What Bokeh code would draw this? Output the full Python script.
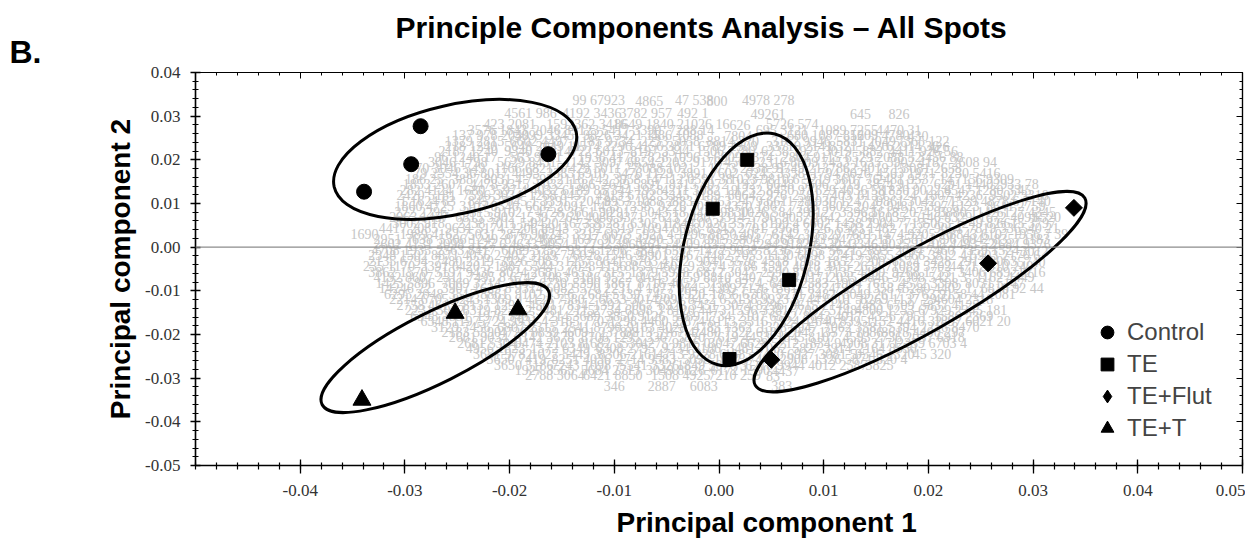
from bokeh.plotting import figure
from bokeh.models import (LinearAxis, FixedTicker, NumeralTickFormatter, Span, Title,
                          Legend, LegendItem, ColumnDataSource, Range1d)
from bokeh.core.properties import value
from bokeh.embed import file_html
from bokeh.resources import INLINE
import math

# ---------------- data ----------------
control_x = [-0.0339, -0.0294, -0.0285, -0.0163]
control_y = [0.0127, 0.0190, 0.0277, 0.0213]
te_x = [0.0027, -0.0006, 0.0067, 0.0010]
te_y = [0.0200, 0.0088, -0.0075, -0.0256]
flut_x = [0.0339, 0.0257, 0.0050]
flut_y = [0.0090, -0.0037, -0.0258]
tet_x = [-0.0341, -0.0252, -0.0192]
tet_y = [-0.0350, -0.0151, -0.0143]

# group ellipses (Control, TE, TE+Flut, TE+T)
ell_x = [-0.0252, 0.0026, 0.0192, -0.0271]
ell_y = [0.0201, -0.0005, -0.0102, -0.0230]
ell_w = [0.0237, 0.0227, 0.0362, 0.0242]
ell_h = [0.0250, 0.0285, 0.0187, 0.0160]
ell_angle_deg = [12.8, 76.1, 29.6, 26.7]

x_ticks = [-0.04, -0.03, -0.02, -0.01, 0.0, 0.01, 0.02, 0.03, 0.04, 0.05]
y_ticks = [-0.05, -0.04, -0.03, -0.02, -0.01, 0.0, 0.01, 0.02, 0.03, 0.04]

# background spot-number labels (loadings), row by row
spot_row_y = [0.0335, 0.0305, 0.0280, 0.0255, 0.0230, 0.0205, 0.0180, 0.0155, 0.0130,
              0.0105, 0.0080, 0.0055, 0.0030, 0.0005, -0.0020, -0.0045, -0.0070,
              -0.0095, -0.0120, -0.0145, -0.0170, -0.0195, -0.0220, -0.0245,
              -0.0270, -0.0295, -0.0318]
spot_row_x = [
    [-0.0140, -0.0080, -0.0042, -0.0012, 0.0022],
    [-0.0205, -0.0150, -0.0095, -0.0040, 0.0030, 0.0125, 0.0162],
    [-0.0225, -0.0165, -0.0100, -0.0040, 0.0010, 0.0045],
    [-0.0255, -0.0195, -0.0130, -0.0065, 0.0005, 0.0065, 0.0125, 0.0180],
    [-0.0262, -0.0205, -0.0140, -0.0080, -0.0020, 0.0045, 0.0105, 0.0160, 0.0200],
    [-0.0272, -0.0200, -0.0135, -0.0075, -0.0005, 0.0060, 0.0120, 0.0190],
    [-0.0290, -0.0215, -0.0150, -0.0080, -0.0010, 0.0055, 0.0105, 0.0175],
    [-0.0300, -0.0255, -0.0185, -0.0125, -0.0060, 0.0010, 0.0080, 0.0150, 0.0225],
    [-0.0305, -0.0250, -0.0180, -0.0110, -0.0055, 0.0015, 0.0085, 0.0155, 0.0215, 0.0285],
    [-0.0305, -0.0240, -0.0170, -0.0110, -0.0045, 0.0015, 0.0085, 0.0150, 0.0220, 0.0290],
    [-0.0310, -0.0245, -0.0175, -0.0105, -0.0045, 0.0020, 0.0085, 0.0145, 0.0210, 0.0265],
    [-0.0312, -0.0250, -0.0180, -0.0115, -0.0050, 0.0010, 0.0080, 0.0140, 0.0195, 0.0265],
    [-0.0352, -0.0305, -0.0240, -0.0170, -0.0110, -0.0040, 0.0020, 0.0090, 0.0150, 0.0220, 0.0280],
    [-0.0330, -0.0270, -0.0200, -0.0130, -0.0075, 0.0000, 0.0060, 0.0125, 0.0190, 0.0260],
    [-0.0335, -0.0275, -0.0205, -0.0140, -0.0075, -0.0015, 0.0045, 0.0110, 0.0170, 0.0240],
    [-0.0340, -0.0285, -0.0215, -0.0145, -0.0090, -0.0020, 0.0040, 0.0105, 0.0165, 0.0220],
    [-0.0330, -0.0270, -0.0200, -0.0140, -0.0075, -0.0015, 0.0050, 0.0105, 0.0170, 0.0245],
    [-0.0325, -0.0265, -0.0195, -0.0140, -0.0070, -0.0010, 0.0055, 0.0110, 0.0175, 0.0250],
    [-0.0315, -0.0255, -0.0185, -0.0115, -0.0060, 0.0010, 0.0070, 0.0135, 0.0205],
    [-0.0300, -0.0245, -0.0175, -0.0120, -0.0050, 0.0010, 0.0075, 0.0130, 0.0195],
    [-0.0285, -0.0230, -0.0160, -0.0105, -0.0040, 0.0020, 0.0085, 0.0140, 0.0205],
    [-0.0265, -0.0210, -0.0145, -0.0090, -0.0025, 0.0035, 0.0100, 0.0155],
    [-0.0250, -0.0195, -0.0130, -0.0075, -0.0010, 0.0050, 0.0115, 0.0170],
    [-0.0235, -0.0180, -0.0115, -0.0060, 0.0005, 0.0065, 0.0130, 0.0185],
    [-0.0215, -0.0160, -0.0095, -0.0040, 0.0025, 0.0085, 0.0140],
    [-0.0185, -0.0130, -0.0065, -0.0010, 0.0045],
    [-0.0110, -0.0068, -0.0028, 0.0050],
]
spot_row_text = [
    ["99 67923", "4865", "47 538", "800", "4978 278"],
    ["4561 986", "4192 3436", "3782 957", "492 1", "49261", "645", "826"],
    ["423 2081", "1592362 3416", "8649 1840", "21026 16", "626", "5726 574"],
    ["137 978 2049", "5099 3345", "9826 3421 15", "486 1088", "7804", "680 1087 812", "5609 4780", "430"],
    ["218 1240", "5648 2049 11", "8574 2296", "4156 3871", "6789 2309", "33719 2141", "8521 1426", "62914 36", "426"],
    ["96 1240 17", "563 9841 7", "1936 4178", "7828 1096 3", "6909 1374", "2864 9115", "6529 2088 52", "3456 88"],
    ["70 3046 549", "1166 6821 5", "7429 5011 77", "3088 1021", "1773 2438 91", "5749 213", "7862 4019 15", "3081 2658"],
    ["186 25", "3887 8031 4", "7593 2116", "142 3958 14", "7112 0591 38", "1023 9810 6", "5219 3607 76", "2481 9537 14", "7156 9309"],
    ["282 4124", "1680 3597 4", "4032 6189 85", "7344 1958", "4211 3082 19", "1232 8450 97", "1629 4036 58", "1830 9022 4", "6547 1280 33", "45"],
    ["1 1624 63", "8452 7045 1", "3391 7204 8", "9953 1088 2", "8834 5063", "2479 6611 28", "5930 1247 3", "9861 3042 77", "1529 4878 6", "7140"],
    ["222 2296", "3315 9102 7", "4728 3661 90", "2917 5043", "18 4411 9830", "1026 584 39", "8127 3396 1", "5618 2074 95", "3880 1142", "6127 4345"],
    ["3002 918", "2238 7011 54", "9420 1673 8", "5287 6305 1", "1844 0926", "3571 8199 4", "6602 1438 7", "2904 7715", "5063 1249 82", "6615 3797"],
    ["1690", "1989 4162 7", "5031 2876 90", "8245 3317", "6073 5921 4", "1296 8830", "4057 6142 3", "3329 7681", "1474 9205 26", "8843 6107", "1956 7 39"],
    ["2602 4131", "2098 5127 6", "4633 9054 1", "7792 3860", "2615 4409 83", "5377 1294", "9182 6530 4", "3346 8025 1", "1708 4493 52", "2684 9376"],
    ["2348 1502", "8871 4056 2", "405 3189 77", "6028 1546 9", "9901 2367", "4482 7053", "1130 6698 2", "7419 3855", "1066 3812 41", "5903 2176 6"],
    ["235 1170", "3391 6420 5", "1987 5544 3", "7028 1136", "8853 4601 9", "3274 7786", "1597 4018 3", "915 2634 7", "1089 5702", "4471 3310 249"],
    ["4192 8607", "2311 7495 8", "6742 1083", "3186 9522 0", "1643 2759", "8810 3407 5", "6294 1171", "2035 8846 9", "7308 5421 3", "1162 4449"],
    ["14246 22", "3907 1625 8", "9314 6082", "5570 2231 4", "1877 9645", "4309 7126 8", "3611 8274", "7921 1358 6", "5280 4402 1", "6816 92 44"],
    ["2214 6705", "8243 1369 9", "4126 7580 2", "6653 3014", "2097 8452 6", "5138 9923", "3744 6601 5", "8269 1137 29", "4604 2318"],
    ["2231 5062", "6319 8274 2", "9481 2115", "2734 6698 3", "8120 4473", "1596 3381 7", "7092 5148", "4800 1253 6", "7929 2345 181"],
    ["6348 1197", "5724 9931 4", "3185 7707", "1298 4460 2", "5874 6113", "3316 7924 4", "2640 8395", "1152 4416 32", "1897 6021 20"],
    ["2183 5590", "4726 8839 1", "6091 2378", "9813 5167 4", "2480 7322", "6185 2947 1", "3573 1086", "8618 4400 297"],
    ["2681 5304", "9474 2103 8", "1682 5530", "4275 9816 0", "3047 6628", "5212 1834 9", "4908 3171", "2259 6703 4"],
    ["3651 9782", "1027 5449 3", "8306 2161", "4713 9228 6", "1385 7430", "6927 3081 5", "9546 1320", "45 320"],
    ["3650 5186", "7243 1098 7", "5541 3326", "1849 5070 3", "6218 9944", "4012 2587", "3825"],
    ["2788 3064", "6421 8850", "1508 4925", "7210 259", "83"],
    ["346", "2887", "6083", "383"],
]
# in-between rows of the denser core of the cloud
spot_row2_y = [0.0268, 0.0243, 0.0218, 0.0193, 0.0168, 0.0143, 0.0118, 0.0093, 0.0068,
               0.0043, 0.0018, -0.0008, -0.0033, -0.0058, -0.0083, -0.0108, -0.0133,
               -0.0158, -0.0183, -0.0208, -0.0233, -0.0258, -0.0283]
spot_row2_x = [
    [-0.0240, -0.0178, -0.0112, -0.0048, 0.0035, 0.0095, 0.0150],
    [-0.0262, -0.0200, -0.0138, -0.0075, -0.0012, 0.0050, 0.0112, 0.0170],
    [-0.0268, -0.0205, -0.0148, -0.0085, -0.0022, 0.0040, 0.0100, 0.0162],
    [-0.0278, -0.0212, -0.0148, -0.0088, -0.0025, 0.0038, 0.0098, 0.0160, 0.0222],
    [-0.0292, -0.0228, -0.0165, -0.0100, -0.0038, 0.0025, 0.0088, 0.0150, 0.0212],
    [-0.0302, -0.0238, -0.0175, -0.0112, -0.0048, 0.0015, 0.0078, 0.0140, 0.0205, 0.0262],
    [-0.0308, -0.0245, -0.0182, -0.0118, -0.0055, 0.0008, 0.0070, 0.0132, 0.0195, 0.0258],
    [-0.0310, -0.0248, -0.0185, -0.0122, -0.0058, 0.0005, 0.0068, 0.0130, 0.0192, 0.0255],
    [-0.0315, -0.0252, -0.0190, -0.0128, -0.0065, -0.0002, 0.0060, 0.0122, 0.0185, 0.0248, 0.0300],
    [-0.0325, -0.0262, -0.0200, -0.0138, -0.0075, -0.0012, 0.0050, 0.0112, 0.0175, 0.0238, 0.0295],
    [-0.0330, -0.0268, -0.0205, -0.0142, -0.0080, -0.0018, 0.0045, 0.0108, 0.0170, 0.0232, 0.0290],
    [-0.0332, -0.0270, -0.0208, -0.0145, -0.0082, -0.0020, 0.0042, 0.0105, 0.0168, 0.0230, 0.0288],
    [-0.0335, -0.0272, -0.0210, -0.0148, -0.0085, -0.0022, 0.0040, 0.0102, 0.0165, 0.0228, 0.0285],
    [-0.0335, -0.0272, -0.0210, -0.0148, -0.0085, -0.0022, 0.0040, 0.0102, 0.0165, 0.0228, 0.0285],
    [-0.0328, -0.0265, -0.0202, -0.0140, -0.0078, -0.0015, 0.0048, 0.0110, 0.0172, 0.0235],
    [-0.0320, -0.0258, -0.0195, -0.0132, -0.0070, -0.0008, 0.0055, 0.0118, 0.0180, 0.0240],
    [-0.0308, -0.0245, -0.0182, -0.0120, -0.0058, 0.0005, 0.0068, 0.0130, 0.0192],
    [-0.0295, -0.0232, -0.0170, -0.0108, -0.0045, 0.0018, 0.0080, 0.0142, 0.0205],
    [-0.0275, -0.0212, -0.0150, -0.0088, -0.0025, 0.0038, 0.0100, 0.0162, 0.0222],
    [-0.0258, -0.0195, -0.0132, -0.0070, -0.0008, 0.0055, 0.0118, 0.0178],
    [-0.0242, -0.0180, -0.0118, -0.0055, 0.0008, 0.0070, 0.0132],
    [-0.0222, -0.0160, -0.0098, -0.0035, 0.0028, 0.0090, 0.0150],
    [-0.0195, -0.0132, -0.0070, -0.0008, 0.0050],
]
spot_row2_text = [
    ["3576 1843", "2046 89123", "5417 3390", "7288 14", "695 3121", "1089 7255", "4470 31"],
    ["1379 2815", "6602 4497", "1185 9734", "2233 5058", "8814 270", "3162 9946", "5831 2049", "7365 122"],
    ["2187 1240", "9340 2581", "4722 6013", "8197 3344", "1506 7780", "6238 1927", "3019 5882", "4411 926 56"],
    ["3046 1798", "5629 8431", "1142 3097", "6854 2203", "9170 4568", "2316 8809", "7453 1635", "5902 4187", "2608 94"],
    ["79 2554 36", "8017 4493", "2385 6910", "5476 1129", "3891 7602", "6245 3358", "1794 8026", "4563 1971", "8230 5416"],
    ["1853 2607", "4478 9315", "7032 1586", "2649 5891", "8315 4072", "1927 6648", "5506 2319", "3874 9157", "6291 1440", "2933 78"],
    ["2420 5181", "7596 3034", "1268 8457", "4913 6702", "3345 1189", "8064 2976", "2581 7403", "6139 5524", "1807 4236", "9502 3318"],
    ["1860 4725", "3107 8546", "6682 2091", "1453 7338", "9226 5014", "4370 1867", "7718 3602", "2045 9481", "5397 6123", "8641 2759"],
    ["2963 1457", "6815 3902", "1539 7264", "4086 9371", "7623 2480", "3314 5796", "9057 1642", "2788 6035", "5146 8329", "1672 4093", "6520"],
    ["4417 2085", "9631 5174", "2206 8943", "5782 3319", "1094 6658", "8345 2701", "3968 7126", "6503 1482", "1227 9054", "7819 3365", "40 21"],
    ["2951 7638", "5306 1249", "8172 4685", "1637 9026", "4290 3571", "7915 2804", "2368 6143", "9473 5218", "3581 1796", "6042 8357", "1183"],
    ["4708 1935", "2563 8417", "6089 3752", "9314 1206", "3847 6591", "1472 9038", "8236 4175", "5621 2893", "2094 7460", "7359 1524", "3012"],
    ["2135 6794", "7480 2319", "3926 5083", "1257 8641", "6703 4192", "9041 3576", "4318 1965", "1852 7209", "6574 3428", "2917 8063", "5740"],
    ["3862 1570", "5197 9436", "8024 2681", "4653 7315", "1379 5928", "6812 3047", "2590 8164", "7135 4409", "9268 1753", "3406 6892", "1216"],
    ["1423 5896", "7069 3214", "2845 6730", "5390 1867", "8716 4052", "3158 9274", "6427 2583", "1904 7615", "4572 3398", "8031 5147"],
    ["6295 2048", "3517 8861", "9102 4376", "2684 5139", "7453 1920", "1836 6705", "5271 3482", "8049 2617", "3763 9158", "44 2081"],
    ["2758 4613", "8137 1290", "4561 7834", "1392 5067", "6928 3451", "3074 8296", "9615 2148", "2483 6709", "5837 4125"],
    ["6348 2851", "1976 5403", "7214 3689", "3850 9126", "5469 1734", "2107 6582", "8643 4017", "4326 7951", "1580 2369"],
    ["3129 7456", "6807 2315", "2541 8790", "9163 4028", "4785 1362", "1328 6947", "7062 3581", "5394 2216", "8470"],
    ["2681 9034", "5142 3678", "8706 1295", "3367 5820", "7619 4453", "1845 8107", "4593 2736", "2037 6918"],
    ["4956 1823", "1572 6349", "6308 2795", "9234 5186", "3481 7062", "5827 3914", "2164 8530"],
    ["3650 7419", "8251 4036", "2714 9583", "5098 1647", "7463 2908", "1326 5871", "320 4"],
    ["1927 3565", "5684 2713", "3049 8826", "6172 1590", "4437"],
]

# ---------------- build ----------------
NARROW = "Liberation Sans Narrow"
ARIAL = "Liberation Sans"

spot_x, spot_y, spot_t = [], [], []
for ys, xss, tss in ((spot_row_y, spot_row_x, spot_row_text),
                     (spot_row2_y, spot_row2_x, spot_row2_text)):
    for yy, xs, ts in zip(ys, xss, tss):
        for xx, tt in zip(xs, ts):
            spot_x.append(xx)
            spot_y.append(yy)
            spot_t.append(tt)

p = figure(width=1245, height=549, x_range=Range1d(-0.05, 0.05), y_range=Range1d(-0.05, 0.04),
           x_axis_type=None, y_axis_type=None, output_backend="svg", toolbar_location=None,
           min_border_left=195, min_border_right=3, min_border_top=72, min_border_bottom=84)
p.outline_line_color = "#222222"
p.outline_line_width = 1.2
p.background_fill_color = "white"
p.border_fill_color = "white"

minor_x = [round(-0.05 + 0.002 * i, 3) for i in range(51)]
minor_y = [round(-0.05 + 0.002 * i, 3) for i in range(46)]

xa = LinearAxis(ticker=FixedTicker(ticks=x_ticks, minor_ticks=minor_x),
                formatter=NumeralTickFormatter(format="0.00"),
                major_tick_in=6, major_tick_out=8, minor_tick_in=3, minor_tick_out=4,
                major_label_standoff=11, major_label_text_font_size="17px",
                major_label_text_font=NARROW, major_label_text_color="#333333",
                axis_line_width=1.5, major_tick_line_width=1.3, minor_tick_line_width=1.2)
p.add_layout(xa, "below")

ya = LinearAxis(ticker=FixedTicker(ticks=y_ticks, minor_ticks=minor_y),
                formatter=NumeralTickFormatter(format="0.00"),
                major_tick_in=5, major_tick_out=5, minor_tick_in=3, minor_tick_out=3,
                major_label_standoff=10, major_label_text_font_size="17px",
                major_label_text_font=NARROW, major_label_text_color="#333333",
                axis_line_width=1.5, major_tick_line_width=1.3, minor_tick_line_width=1.2,
                axis_label="Principal component 2", axis_label_text_font_size="28px",
                axis_label_text_font_style="bold", axis_label_text_font=ARIAL,
                axis_label_text_color="black", axis_label_standoff=6)
p.add_layout(ya, "left")

blank_x = {t: "" for t in x_ticks}
blank_y = {t: "" for t in y_ticks}
ta = LinearAxis(ticker=FixedTicker(ticks=x_ticks, minor_ticks=minor_x),
                major_tick_in=6, major_tick_out=0, minor_tick_in=3, minor_tick_out=0,
                major_label_overrides=blank_x,
                major_label_text_font_size="0px", major_label_standoff=0,
                axis_line_width=1.2)
p.add_layout(ta, "above")
ra = LinearAxis(ticker=FixedTicker(ticks=y_ticks, minor_ticks=minor_y),
                major_tick_in=6, major_tick_out=0, minor_tick_in=3, minor_tick_out=0,
                major_label_overrides=blank_y,
                major_label_text_font_size="0px", major_label_standoff=0,
                axis_line_width=1.2)
p.add_layout(ra, "right")

# background spot numbers
spots = ColumnDataSource(dict(x=spot_x, y=spot_y, t=spot_t))
p.text(x="x", y="y", text="t", source=spots, text_font=value(NARROW), text_font_size="14px",
       text_color="#c6c6c6", text_align="left", text_baseline="middle")

# zero line
p.add_layout(Span(location=0, dimension="width", line_color="#8c8c8c", line_width=1.2))

# group ellipses
ells = ColumnDataSource(dict(x=ell_x, y=ell_y, w=ell_w, h=ell_h,
                             a=[math.radians(d) for d in ell_angle_deg]))
p.ellipse(x="x", y="y", width="w", height="h", angle="a", source=ells,
          fill_alpha=0, line_color="black", line_width=3)

r_c = p.scatter(control_x, control_y, marker="circle", size=15, color="black")
r_te = p.scatter(te_x, te_y, marker="square", size=13, color="black")
# legend key for the diamond group: drawn on the same points, hidden under the rotated squares
r_fl_key = p.scatter(flut_x, flut_y, marker="diamond", size=15, color="black")
r_fl = p.scatter(flut_x, flut_y, marker="square", size=12, angle=math.pi / 4, color="black")
r_tt = p.scatter(tet_x, tet_y, marker="triangle", size=18, color="black")

legend = Legend(items=[LegendItem(label="Control", renderers=[r_c]),
                       LegendItem(label="TE", renderers=[r_te]),
                       LegendItem(label="TE+Flut", renderers=[r_fl_key]),
                       LegendItem(label="TE+T", renderers=[r_tt])],
                location=(896, 21), orientation="vertical",
                glyph_width=32, glyph_height=32, label_height=32, spacing=0,
                padding=0, margin=0, label_standoff=4,
                label_text_font_size="24px", label_text_font=ARIAL,
                label_text_baseline="middle",
                border_line_alpha=0, background_fill_alpha=0)
p.add_layout(legend)

# panel letter (nearest the frame) and main title (outermost) in the top panel
t_b = Title(text="B.", align="left", offset=-186, text_font=ARIAL, text_font_size="32px",
            text_font_style="bold", text_color="black", vertical_align="bottom", standoff=6)
p.add_layout(t_b, "above")
t_main = Title(text="Principle Components Analysis \u2013 All Spots", align="left", offset=200,
               text_font=ARIAL, text_font_size="30px", text_font_style="bold",
               text_color="black", vertical_align="bottom")
try:
    t_main.standoff = -30
except Exception:
    t_main.standoff = 0
p.add_layout(t_main, "above")

# x-axis title, shifted right as in the reference
t_x = Title(text="Principal component 1", align="left", offset=421, text_font=ARIAL,
            text_font_size="28px", text_font_style="bold", text_color="black",
            vertical_align="top", standoff=16)
p.add_layout(t_x, "below")

open("out.html", "w").write(file_html(p, INLINE))
